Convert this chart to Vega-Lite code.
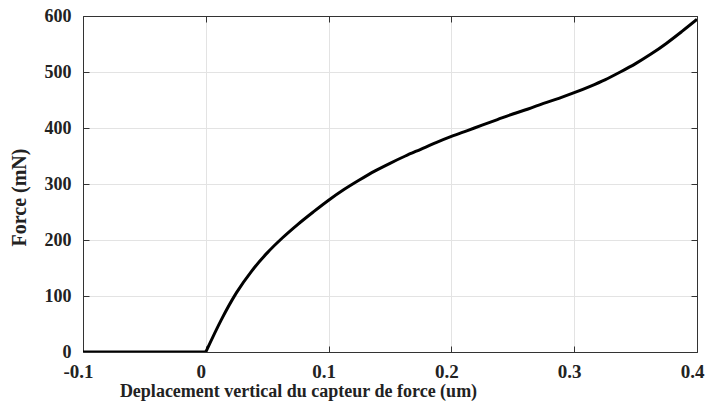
{
  "$schema": "https://vega.github.io/schema/vega-lite/v6.json",
  "autosize": "none",
  "width": 614,
  "height": 336,
  "padding": {"left": 83, "top": 16, "right": 10, "bottom": 58},
  "background": "white",
  "config": {
    "view": {"stroke": null},
    "font": "Liberation Serif",
    "axis": {
      "labelFont": "Liberation Serif",
      "titleFont": "Liberation Serif",
      "labelFontWeight": "bold",
      "titleFontWeight": "bold",
      "labelFontSize": 19,
      "titleFontSize": 18,
      "labelColor": "#222",
      "titleColor": "#222",
      "domainColor": "#333",
      "tickColor": "#333",
      "gridColor": "#e3e3e3",
      "tickSize": -6
    }
  },
  "data": {
    "values": [
      {"seg": "a", "x": -0.1, "f": 0},
      {"seg": "a", "x": 0, "f": 0},
      {"seg": "b", "x": 0, "f": 0},
      {"seg": "b", "x": 0.0125, "f": 57},
      {"seg": "b", "x": 0.025, "f": 106},
      {"seg": "b", "x": 0.0375, "f": 145},
      {"seg": "b", "x": 0.05, "f": 177},
      {"seg": "b", "x": 0.0625, "f": 204},
      {"seg": "b", "x": 0.075, "f": 228},
      {"seg": "b", "x": 0.0875, "f": 250},
      {"seg": "b", "x": 0.1, "f": 271},
      {"seg": "b", "x": 0.1125, "f": 290},
      {"seg": "b", "x": 0.125, "f": 307},
      {"seg": "b", "x": 0.1375, "f": 323},
      {"seg": "b", "x": 0.15, "f": 337},
      {"seg": "b", "x": 0.1625, "f": 350},
      {"seg": "b", "x": 0.175, "f": 362},
      {"seg": "b", "x": 0.1875, "f": 374},
      {"seg": "b", "x": 0.2, "f": 385},
      {"seg": "b", "x": 0.2125, "f": 395},
      {"seg": "b", "x": 0.225, "f": 405},
      {"seg": "b", "x": 0.2375, "f": 415},
      {"seg": "b", "x": 0.25, "f": 425},
      {"seg": "b", "x": 0.2625, "f": 434},
      {"seg": "b", "x": 0.275, "f": 444},
      {"seg": "b", "x": 0.2875, "f": 453},
      {"seg": "b", "x": 0.3, "f": 463},
      {"seg": "b", "x": 0.3125, "f": 474},
      {"seg": "b", "x": 0.325, "f": 486},
      {"seg": "b", "x": 0.3375, "f": 500},
      {"seg": "b", "x": 0.35, "f": 515},
      {"seg": "b", "x": 0.3625, "f": 532},
      {"seg": "b", "x": 0.375, "f": 551},
      {"seg": "b", "x": 0.3875, "f": 572},
      {"seg": "b", "x": 0.4, "f": 594}
    ]
  },
  "layer": [
    {
      "mark": {"type": "line", "color": "black", "strokeWidth": 3, "interpolate": "monotone", "clip": true},
      "encoding": {
        "detail": {"field": "seg", "type": "nominal"},
        "x": {"field": "x", "type": "quantitative",
          "scale": {"domain": [-0.1, 0.4], "nice": false, "zero": false},
          "axis": {"orient": "bottom", "values": [-0.1, 0, 0.1, 0.2, 0.3, 0.4], "format": "~g",
            "labelExpr": "replace(datum.label, '−', '-')", "labelFlush": false, "labelOffset": -5,
            "title": "Deplacement vertical du capteur de force (um)", "labelPadding": 16,
            "titleX": 215, "titleY": 44, "titleBaseline": "alphabetic", "titleAlign": "center"}},
        "y": {"field": "f", "type": "quantitative",
          "scale": {"domain": [0, 600], "nice": false},
          "axis": {"orient": "left", "values": [0, 100, 200, 300, 400, 500, 600],
            "title": "Force (mN)", "labelPadding": 18, "labelFontSize": 18, "titleFontSize": 20,
            "titleX": -58, "titleY": 181, "titleBaseline": "alphabetic", "titleAngle": -90, "titleAlign": "center"}}
      }
    },
    {
      "mark": {"type": "point", "opacity": 0},
      "encoding": {
        "x": {"field": "x", "type": "quantitative",
          "axis": {"orient": "top", "values": [-0.1, 0, 0.1, 0.2, 0.3, 0.4], "labels": false, "title": null, "grid": false}},
        "y": {"field": "f", "type": "quantitative",
          "axis": {"orient": "right", "values": [0, 100, 200, 300, 400, 500, 600], "labels": false, "title": null, "grid": false}}
      }
    }
  ],
  "resolve": {"axis": {"x": "independent", "y": "independent"}}
}
